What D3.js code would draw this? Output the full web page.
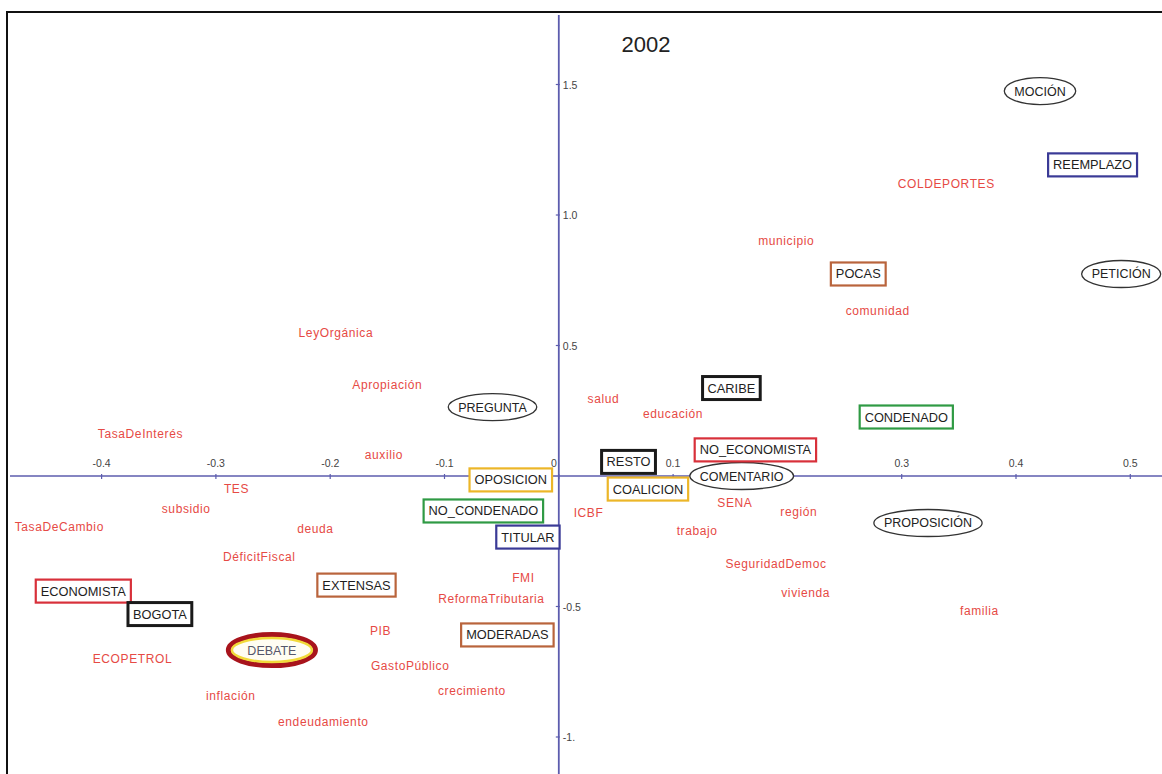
<!DOCTYPE html>
<html>
<head>
<meta charset="utf-8">
<script src="https://cdn.jsdelivr.net/npm/d3@7/dist/d3.min.js"></script>
<style>
  html, body { margin: 0; padding: 0; background: #fff; }
  svg { display: block; }
</style>
</head>
<body>
<svg id="chart" width="1162" height="774"></svg>
<script>
// Correspondence analysis map, 2002: dimension 1 (horizontal) vs dimension 2 (vertical)

// Column profile points: topic words
const termNames = ["COLDEPORTES", "municipio", "comunidad", "LeyOrgánica", "Apropiación", "salud",
  "educación", "TasaDeInterés", "auxilio", "TES", "subsidio", "TasaDeCambio", "deuda", "ICBF",
  "SENA", "región", "trabajo", "DéficitFiscal", "SeguridadDemoc", "FMI", "ReformaTributaria",
  "vivienda", "familia", "PIB", "ECOPETROL", "GastoPúblico", "crecimiento", "inflación", "endeudamiento"];
const termX = [0.339, 0.199, 0.279, -0.195, -0.150, 0.039,
  0.100, -0.366, -0.153, -0.282, -0.326, -0.437, -0.213, 0.026,
  0.154, 0.210, 0.121, -0.262, 0.190, -0.031, -0.059,
  0.216, 0.368, -0.156, -0.373, -0.130, -0.076, -0.287, -0.206];
const termY = [1.119, 0.900, 0.632, 0.548, 0.349, 0.295,
  0.238, 0.161, 0.080, -0.050, -0.126, -0.195, -0.203, -0.142,
  -0.103, -0.138, -0.211, -0.310, -0.337, -0.391, -0.471,
  -0.448, -0.517, -0.594, -0.701, -0.728, -0.824, -0.843, -0.943];

// Supplementary categories (speaker attributes), with the variable each belongs to
const catNames = ["REEMPLAZO", "POCAS", "CARIBE", "CONDENADO", "NO_ECONOMISTA", "RESTO",
  "COALICION", "OPOSICION", "NO_CONDENADO", "TITULAR", "ECONOMISTA", "BOGOTA", "EXTENSAS", "MODERADAS"];
const catVariable = ["cargo", "intervenciones", "region", "judicial", "profesion", "region",
  "bancada", "bancada", "judicial", "cargo", "profesion", "region", "intervenciones", "intervenciones"];
const catX = [0.467, 0.262, 0.151, 0.304, 0.172, 0.061,
  0.078, -0.042, -0.066, -0.027, -0.416, -0.349, -0.177, -0.045];
const catY = [1.192, 0.774, 0.337, 0.226, 0.100, 0.054,
  -0.050, -0.015, -0.134, -0.234, -0.441, -0.529, -0.418, -0.609];

// Type of parliamentary intervention
const typeNames = ["MOCIÓN", "PETICIÓN", "PREGUNTA", "COMENTARIO", "PROPOSICIÓN", "DEBATE"];
const typeX = [0.421, 0.492, -0.058, 0.160, 0.323, -0.251];
const typeY = [1.475, 0.774, 0.264, 0.000, -0.180, -0.667];
const highlightedType = "DEBATE";

// Axis ticks (the 0.2 mark carries no label)
const xTicks = [-0.4, -0.3, -0.2, -0.1, 0, 0.1, 0.2, 0.3, 0.4, 0.5];
const xTickLabels = ["-0.4", "-0.3", "-0.2", "-0.1", "0", "0.1", "", "0.3", "0.4", "0.5"];
const yTicks = [1.5, 1.0, 0.5, -0.5, -1.0];
const yTickLabels = ["1.5", "1.0", "0.5", "-0.5", "-1."];

const titleText = "2002";

// ---- drawing ----
const W = 1162, H = 774;
const svg = d3.select("#chart");

const x = d3.scaleLinear().domain([-0.4, 0.5]).range([101.6, 1130.3]);
const y = d3.scaleLinear().domain([-1, 1.5]).range([737, 84.5]);

const variableColor = {
  cargo: "#3a3a96",
  intervenciones: "#b9643c",
  region: "#1a1a1a",
  judicial: "#2f9a44",
  profesion: "#d8303a",
  bancada: "#ecb628"
};
const variableStroke = { region: 3 };

const termColor = "#e64a45";
const axisColor = "#5c5cae";
const font = "'Liberation Sans', Arial, sans-serif";

// Frame
svg.append("rect")
  .attr("x", 7).attr("y", 12)
  .attr("width", W + 20).attr("height", H + 20)
  .attr("fill", "#fff").attr("stroke", "#111").attr("stroke-width", 2);

// Axes through the origin
const gAxes = svg.append("g");
gAxes.append("line")
  .attr("x1", 10).attr("x2", W).attr("y1", y(0)).attr("y2", y(0))
  .attr("stroke", axisColor).attr("stroke-width", 1.3);
gAxes.append("line")
  .attr("x1", x(0)).attr("x2", x(0)).attr("y1", 15).attr("y2", H)
  .attr("stroke", axisColor).attr("stroke-width", 1.8);

// Horizontal ticks and labels above the axis
xTicks.forEach((t, i) => {
  gAxes.append("line")
    .attr("x1", x(t)).attr("x2", x(t)).attr("y1", y(0) - 2).attr("y2", y(0) + 3)
    .attr("stroke", axisColor).attr("stroke-width", 1.2);
  gAxes.append("text")
    .attr("x", t === 0 ? x(t) - 5 : x(t)).attr("y", y(0) - 9)
    .attr("text-anchor", "middle")
    .attr("font-family", font).attr("font-size", 10.5)
    .attr("fill", "#444")
    .text(xTickLabels[i]);
});

// Vertical ticks and labels right of the axis
yTicks.forEach((t, i) => {
  gAxes.append("line")
    .attr("x1", x(0) - 3).attr("x2", x(0) + 1).attr("y1", y(t)).attr("y2", y(t))
    .attr("stroke", axisColor).attr("stroke-width", 1.2);
  gAxes.append("text")
    .attr("x", x(0) + 4).attr("y", y(t) + 4)
    .attr("font-family", font).attr("font-size", 10.5)
    .attr("fill", "#444")
    .text(yTickLabels[i]);
});

// Title
svg.append("text")
  .attr("x", 646).attr("y", 52)
  .attr("text-anchor", "middle")
  .attr("font-family", font).attr("font-size", 22)
  .attr("fill", "#222")
  .text(titleText);

// Topic words
const terms = termNames.map((n, i) => ({ name: n, x: termX[i], y: termY[i] }));
svg.append("g").selectAll("text").data(terms).join("text")
  .attr("x", d => x(d.x)).attr("y", d => y(d.y) + 4)
  .attr("text-anchor", "middle")
  .attr("font-family", font).attr("font-size", 12)
  .attr("letter-spacing", 0.6)
  .attr("fill", termColor)
  .text(d => d.name);

// Intervention types drawn in ellipses
const types = typeNames.map((n, i) => ({ name: n, x: typeX[i], y: typeY[i] }));
const gTypes = svg.append("g").selectAll("g").data(types).join("g")
  .attr("transform", d => `translate(${x(d.x)},${y(d.y)})`);
gTypes.each(function (d) {
  const g = d3.select(this);
  const hl = d.name === highlightedType;
  const ell = g.append("ellipse").attr("fill", "#fff");
  const txt = g.append("text")
    .attr("y", 4.5)
    .attr("text-anchor", "middle")
    .attr("font-family", font).attr("font-size", 12.5)
    .attr("fill", hl ? "#55576a" : "#222")
    .text(d.name);
  const w = txt.node().getComputedTextLength();
  if (hl) {
    ell.attr("rx", w / 2 + 19).attr("ry", 15.5)
      .attr("fill", "#fffdf2")
      .attr("stroke", "#a8141c").attr("stroke-width", 5);
    g.insert("ellipse", "text")
      .attr("rx", w / 2 + 15.5).attr("ry", 12)
      .attr("fill", "none")
      .attr("stroke", "#f2da3a").attr("stroke-width", 2.5);
  } else {
    ell.attr("rx", w / 2 + 10).attr("ry", 13.5)
      .attr("stroke", "#333").attr("stroke-width", 1.3);
  }
});

// Speaker attribute categories drawn in boxes
const cats = catNames.map((n, i) => ({ name: n, v: catVariable[i], x: catX[i], y: catY[i] }));
const gCats = svg.append("g").selectAll("g").data(cats).join("g")
  .attr("transform", d => `translate(${x(d.x)},${y(d.y)})`);
gCats.each(function (d) {
  const g = d3.select(this);
  const rect = g.append("rect").attr("fill", "#fff");
  const txt = g.append("text")
    .attr("y", 4.5)
    .attr("text-anchor", "middle")
    .attr("font-family", font).attr("font-size", 12.8)
    .attr("fill", "#1e1e1e")
    .text(d.name);
  const w = txt.node().getComputedTextLength();
  const bw = w + 10, bh = 23;
  rect.attr("x", -bw / 2).attr("y", -bh / 2)
    .attr("width", bw).attr("height", bh)
    .attr("stroke", variableColor[d.v])
    .attr("stroke-width", variableStroke[d.v] || 2.2);
});
</script>
</body>
</html>
